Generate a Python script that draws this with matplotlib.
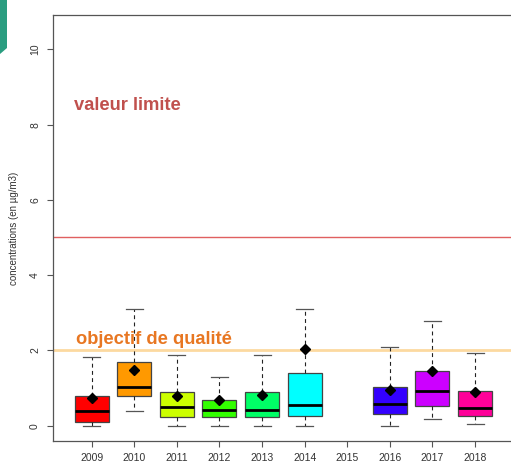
import matplotlib
matplotlib.use("Agg")
import matplotlib.pyplot as plt
from matplotlib.patches import Polygon

plt.rcParams['font.family'] = ['Liberation Sans', 'DejaVu Sans']

years = ["2009", "2010", "2011", "2012", "2013", "2014", "2015", "2016", "2017", "2018"]
# per-year box statistics (None = no measurements)
whislo = [0.00, 0.40, 0.00, 0.00, 0.00, 0.00, None, 0.00, 0.17, 0.05]
q1     = [0.10, 0.78, 0.24, 0.24, 0.22, 0.27, None, 0.31, 0.52, 0.26]
med    = [0.40, 1.03, 0.49, 0.41, 0.42, 0.54, None, 0.58, 0.92, 0.47]
q3     = [0.79, 1.70, 0.90, 0.67, 0.90, 1.40, None, 1.03, 1.44, 0.93]
whishi = [1.83, 3.10, 1.88, 1.30, 1.89, 3.10, None, 2.08, 2.79, 1.93]
means  = [0.73, 1.47, 0.78, 0.68, 0.82, 2.04, None, 0.95, 1.44, 0.90]
colors = ["#FF0000", "#FF9900", "#CCFF00", "#33FF00", "#00FF66",
          "#00FFFF", "#0066FF", "#3300FF", "#CC00FF", "#FF0099"]

valeur_limite = 5
objectif_qualite = 2

fig = plt.figure(figsize=(5.11, 4.62), dpi=100)
ax = fig.add_axes([0.1043, 0.0444, 0.9004, 0.9238])

stats, pos, fills = [], [], []
for i in range(len(years)):
    if med[i] is None:
        continue
    stats.append(dict(whislo=whislo[i], q1=q1[i], med=med[i], q3=q3[i],
                      whishi=whishi[i], fliers=[]))
    pos.append(i + 1)
    fills.append(colors[i])

bp = ax.bxp(stats, positions=pos, widths=0.8, patch_artist=True,
            showfliers=False,
            boxprops=dict(edgecolor="#444444", linewidth=0.9),
            medianprops=dict(color="black", linewidth=2.0),
            whiskerprops=dict(color="#222222", linestyle=(0, (3.5, 3)), linewidth=0.8),
            capprops=dict(color="#555555", linewidth=0.9),
            capwidths=0.4)
for patch, c in zip(bp["boxes"], fills):
    patch.set_facecolor(c)

mx = [i + 1 for i in range(len(years)) if means[i] is not None]
my = [m for m in means if m is not None]
ax.plot(mx, my, linestyle="none", marker="D", color="black", markersize=5, zorder=5)

ax.axhline(valeur_limite, color="#E06060", linewidth=1.0, zorder=1)
ax.axhline(objectif_qualite, color="#FCD9A0", linewidth=2.0, zorder=1)

ax.text(0.58, 8.52, "valeur limite", color="#C0504D", fontsize=13.2,
        fontweight="bold", va="center", ha="left")
ax.text(0.63, 2.30, "objectif de qualité", color="#E87722", fontsize=13.2,
        fontweight="bold", va="center", ha="left")

ax.set_xlim(0.1, 10.9)
ax.set_ylim(-0.42, 10.92)
ax.set_xticks(range(1, len(years) + 1))
ax.set_xticklabels(years)
ax.set_yticks([0, 2, 4, 6, 8, 10])
ax.set_yticklabels(["0", "2", "4", "6", "8", "10"], rotation=90, va="center")
ax.tick_params(axis="both", labelsize=7.5, colors="#555555", length=4, width=0.8,
               labelcolor="#333333")
ax.tick_params(axis="y", pad=5.5)
ax.tick_params(axis="x", pad=4.5)
for s in ax.spines.values():
    s.set_color("#555555")
    s.set_linewidth(0.9)
ax.set_ylabel("concentrations (en µg/m3)", fontsize=7, color="#333333", va="center")
ax.yaxis.set_label_coords(-0.085, 0.5)

# decorative corner tab
fig.patches.append(Polygon([[0, 1], [7 / 511, 1], [7 / 511, 1 - 48 / 462], [0, 1 - 54 / 462]],
                           closed=True, transform=fig.transFigure,
                           facecolor="#2A9D80", edgecolor="none"))

fig.savefig("out.png", dpi=100)
